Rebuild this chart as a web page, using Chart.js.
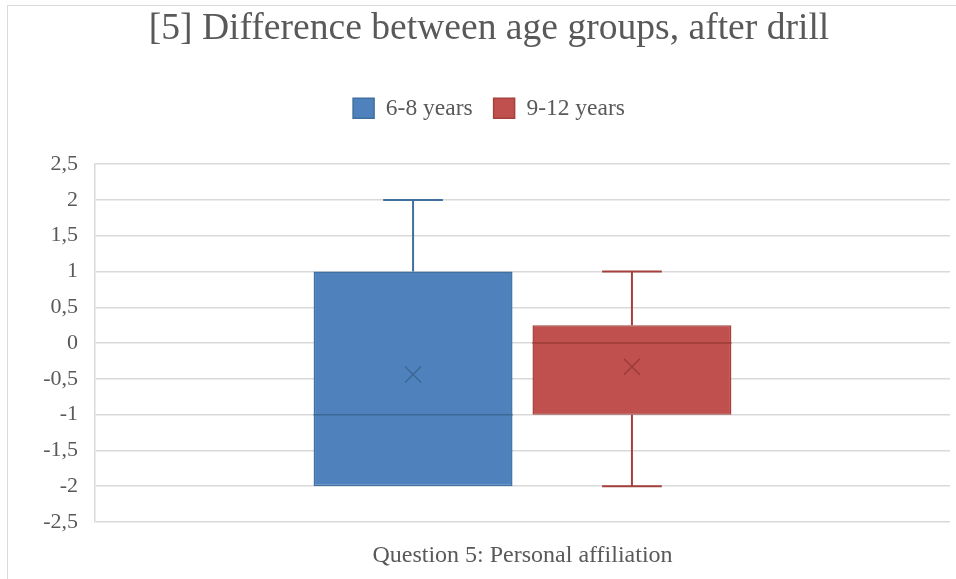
<!DOCTYPE html>
<html>
<head>
<meta charset="utf-8">
<script src="https://cdn.jsdelivr.net/npm/chart.js@4/dist/chart.umd.min.js"></script>
<style>
  html, body { margin: 0; padding: 0; background: #ffffff; }
  #wrap { width: 956px; height: 579px; position: relative; }
</style>
</head>
<body>
<div id="wrap"><canvas id="chart" width="956" height="579"></canvas></div>
<script>
// Box-and-whisker summary per age group
const categories = ['Question 5: Personal affiliation'];
const seriesNames = ['6-8 years', '9-12 years'];
const minValues = [-2, -2];
const q1Values = [-2, -1];
const medianValues = [-1, 0];
const q3Values = [1, 0.25];
const maxValues = [2, 1];
const meanValues = [-0.44, -0.33];
const yTickValues = [-2.5, -2, -1.5, -1, -0.5, 0, 0.5, 1, 1.5, 2, 2.5];

const fillColors = ['#4F81BD', '#C0504D'];
const edgeColors = ['#41709E', '#A4403D'];
const innerColors = ['#3C6896', '#9A3C39'];

const FONT = "'Liberation Serif', 'Times New Roman', serif";
const TEXT = '#595959';

// Whiskers, median line and mean marker drawn on top of the floating box bars
const boxDecor = {
  id: 'boxDecor',
  afterDatasetsDraw(chart) {
    const ctx = chart.ctx;
    const y = chart.scales.y;
    chart.data.datasets.forEach((ds, di) => {
      const meta = chart.getDatasetMeta(di);
      meta.data.forEach((bar, i) => {
        const s = ds.stats[i];
        const cx = bar.x;
        const half = bar.width / 2;
        const cap = bar.width * 0.15;
        const pMin = y.getPixelForValue(s.min);
        const pQ1 = y.getPixelForValue(s.q1);
        const pMed = y.getPixelForValue(s.median);
        const pQ3 = y.getPixelForValue(s.q3);
        const pMax = y.getPixelForValue(s.max);
        const pMean = y.getPixelForValue(s.mean);
        ctx.save();
        ctx.strokeStyle = edgeColors[di];
        ctx.lineWidth = 2;
        ctx.beginPath();
        if (s.max > s.q3) {
          ctx.moveTo(cx, pQ3); ctx.lineTo(cx, pMax);
          ctx.moveTo(cx - cap, pMax); ctx.lineTo(cx + cap, pMax);
        }
        if (s.min < s.q1) {
          ctx.moveTo(cx, pQ1); ctx.lineTo(cx, pMin);
          ctx.moveTo(cx - cap, pMin); ctx.lineTo(cx + cap, pMin);
        }
        ctx.stroke();
        ctx.strokeStyle = innerColors[di];
        ctx.lineWidth = 1.5;
        ctx.beginPath();
        ctx.moveTo(cx - half, pMed); ctx.lineTo(cx + half, pMed);
        const m = 8;
        ctx.moveTo(cx - m, pMean - m); ctx.lineTo(cx + m, pMean + m);
        ctx.moveTo(cx - m, pMean + m); ctx.lineTo(cx + m, pMean - m);
        ctx.stroke();
        ctx.restore();
      });
    });
  }
};

// Extra room between the legend row and the plot area
const legendGap = {
  id: 'legendGap',
  beforeLayout(chart) {
    const lg = chart.legend;
    if (lg && !lg._gapAdded) {
      const fit = lg.fit.bind(lg);
      lg.fit = function () { fit(); this.height += 34; };
      lg._gapAdded = true;
    }
  }
};

// Thin frame around the chart
const frame = {
  id: 'frame',
  beforeDraw(chart) {
    const ctx = chart.ctx;
    ctx.save();
    ctx.strokeStyle = '#D9D9D9';
    ctx.lineWidth = 1;
    ctx.strokeRect(7.5, 5.5, 960, 590);
    ctx.restore();
  }
};

const datasets = seriesNames.map((name, i) => ({
  label: name,
  data: [[q1Values[i], q3Values[i]]],
  stats: [{
    min: minValues[i], q1: q1Values[i], median: medianValues[i],
    q3: q3Values[i], max: maxValues[i], mean: meanValues[i]
  }],
  backgroundColor: fillColors[i],
  borderColor: edgeColors[i],
  borderWidth: 1.5,
  borderSkipped: false,
  categoryPercentage: 0.512,
  barPercentage: 0.909
}));

new Chart(document.getElementById('chart'), {
  type: 'bar',
  data: { labels: categories, datasets },
  plugins: [boxDecor, legendGap, frame],
  options: {
    responsive: false,
    animation: false,
    layout: { padding: { top: 7, right: 6, bottom: 0, left: 28 } },
    plugins: {
      title: {
        display: true,
        text: '[5] Difference between age groups, after drill',
        color: TEXT,
        font: { family: FONT, size: 37.6, weight: 'normal' },
        padding: { top: 0, bottom: 23.5 }
      },
      legend: {
        display: true,
        position: 'top',
        labels: {
          color: TEXT,
          font: { family: FONT, size: 23.5 },
          boxWidth: 21,
          boxHeight: 20,
          padding: 21
        }
      },
      tooltip: { enabled: false }
    },
    scales: {
      x: {
        afterFit(scale) { scale.height = 57; },
        grid: { display: false, drawTicks: false },
        border: { display: false },
        ticks: {
          color: TEXT,
          font: { family: FONT, size: 24 },
          padding: 19
        }
      },
      y: {
        min: -2.5,
        max: 2.5,
        afterFit(scale) { scale.width = 67; },
        afterBuildTicks(scale) { scale.ticks = yTickValues.map(v => ({ value: v })); },
        grid: { color: '#D9D9D9', lineWidth: 1.5, drawTicks: false },
        border: { color: '#D9D9D9', width: 1.5 },
        ticks: {
          color: TEXT,
          font: { family: FONT, size: 22 },
          padding: 17,
          callback: (v) => String(v).replace('.', ',')
        }
      }
    }
  }
});
</script>
</body>
</html>
